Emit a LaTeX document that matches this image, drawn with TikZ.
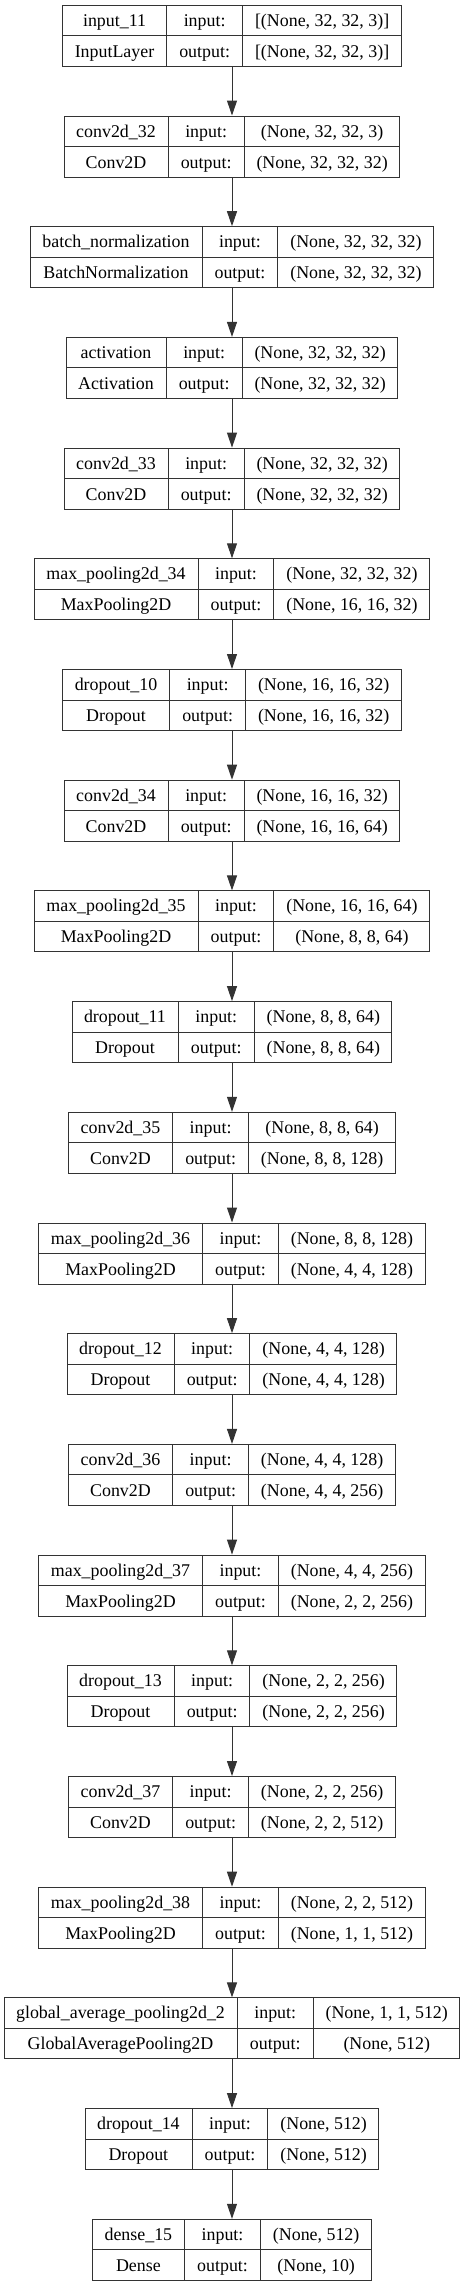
\documentclass[tikz,border=0pt]{standalone}
\usepackage{fontspec}
\setmainfont{Liberation Serif}
\usepackage{colortbl}
\usetikzlibrary{arrows.meta}

\setlength{\tabcolsep}{12pt}
\setlength{\arrayrulewidth}{1pt}
\arrayrulecolor{black!80}
\newcommand\lyrstrut{\rule[-9pt]{0pt}{30pt}}
\newcommand\lyr[4]{\begin{tabular}{c|c|c}
  \lyrstrut#1 & input: & #3\\\hline
  \lyrstrut#2 & output: & #4
\end{tabular}}

\begin{document}
\begin{tikzpicture}[
    x=1pt, y=1pt,
    layer/.style={draw=black!80, line width=1pt, inner sep=0pt,
                  font=\fontsize{17.9}{20}\selectfont},
    flow/.style={-{Triangle[length=15pt,width=10pt]}, line width=1pt, black!80},
  ]
  \useasboundingbox (0,0) rectangle (464,-2287);

  \node[layer] (in11) at (232,-35.8)
    {\lyr{input\_11}{InputLayer}{[(None, 32, 32, 3)]}{[(None, 32, 32, 3)]}};
  \node[layer] (cv32) at (232,-146.5)
    {\lyr{conv2d\_32}{Conv2D}{(None, 32, 32, 3)}{(None, 32, 32, 32)}};
  \node[layer] (bn) at (232,-257.2)
    {\lyr{batch\_normalization}{BatchNormalization}{(None, 32, 32, 32)}{(None, 32, 32, 32)}};
  \node[layer] (act) at (232,-367.9)
    {\lyr{activation}{Activation}{(None, 32, 32, 32)}{(None, 32, 32, 32)}};
  \node[layer] (cv33) at (232,-478.6)
    {\lyr{conv2d\_33}{Conv2D}{(None, 32, 32, 32)}{(None, 32, 32, 32)}};
  \node[layer] (mp34) at (232,-589.3)
    {\lyr{max\_pooling2d\_34}{MaxPooling2D}{(None, 32, 32, 32)}{(None, 16, 16, 32)}};
  \node[layer] (do10) at (232,-700.0)
    {\lyr{dropout\_10}{Dropout}{(None, 16, 16, 32)}{(None, 16, 16, 32)}};
  \node[layer] (cv34) at (232,-810.7)
    {\lyr{conv2d\_34}{Conv2D}{(None, 16, 16, 32)}{(None, 16, 16, 64)}};
  \node[layer] (mp35) at (232,-921.4)
    {\lyr{max\_pooling2d\_35}{MaxPooling2D}{(None, 16, 16, 64)}{(None, 8, 8, 64)}};
  \node[layer] (do11) at (232,-1032.1)
    {\lyr{dropout\_11}{Dropout}{(None, 8, 8, 64)}{(None, 8, 8, 64)}};
  \node[layer] (cv35) at (232,-1142.8)
    {\lyr{conv2d\_35}{Conv2D}{(None, 8, 8, 64)}{(None, 8, 8, 128)}};
  \node[layer] (mp36) at (232,-1253.5)
    {\lyr{max\_pooling2d\_36}{MaxPooling2D}{(None, 8, 8, 128)}{(None, 4, 4, 128)}};
  \node[layer] (do12) at (232,-1364.2)
    {\lyr{dropout\_12}{Dropout}{(None, 4, 4, 128)}{(None, 4, 4, 128)}};
  \node[layer] (cv36) at (232,-1474.9)
    {\lyr{conv2d\_36}{Conv2D}{(None, 4, 4, 128)}{(None, 4, 4, 256)}};
  \node[layer] (mp37) at (232,-1585.6)
    {\lyr{max\_pooling2d\_37}{MaxPooling2D}{(None, 4, 4, 256)}{(None, 2, 2, 256)}};
  \node[layer] (do13) at (232,-1696.3)
    {\lyr{dropout\_13}{Dropout}{(None, 2, 2, 256)}{(None, 2, 2, 256)}};
  \node[layer] (cv37) at (232,-1807.0)
    {\lyr{conv2d\_37}{Conv2D}{(None, 2, 2, 256)}{(None, 2, 2, 512)}};
  \node[layer] (mp38) at (232,-1917.7)
    {\lyr{max\_pooling2d\_38}{MaxPooling2D}{(None, 2, 2, 512)}{(None, 1, 1, 512)}};
  \node[layer] (gap) at (232,-2028.4)
    {\lyr{global\_average\_pooling2d\_2}{GlobalAveragePooling2D}{(None, 1, 1, 512)}{(None, 512)}};
  \node[layer] (do14) at (232,-2139.1)
    {\lyr{dropout\_14}{Dropout}{(None, 512)}{(None, 512)}};
  \node[layer] (dn15) at (232,-2249.8)
    {\lyr{dense\_15}{Dense}{(None, 512)}{(None, 10)}};

  \draw[flow] (in11) -- (cv32);
  \draw[flow] (cv32) -- (bn);
  \draw[flow] (bn) -- (act);
  \draw[flow] (act) -- (cv33);
  \draw[flow] (cv33) -- (mp34);
  \draw[flow] (mp34) -- (do10);
  \draw[flow] (do10) -- (cv34);
  \draw[flow] (cv34) -- (mp35);
  \draw[flow] (mp35) -- (do11);
  \draw[flow] (do11) -- (cv35);
  \draw[flow] (cv35) -- (mp36);
  \draw[flow] (mp36) -- (do12);
  \draw[flow] (do12) -- (cv36);
  \draw[flow] (cv36) -- (mp37);
  \draw[flow] (mp37) -- (do13);
  \draw[flow] (do13) -- (cv37);
  \draw[flow] (cv37) -- (mp38);
  \draw[flow] (mp38) -- (gap);
  \draw[flow] (gap) -- (do14);
  \draw[flow] (do14) -- (dn15);
\end{tikzpicture}
\end{document}
